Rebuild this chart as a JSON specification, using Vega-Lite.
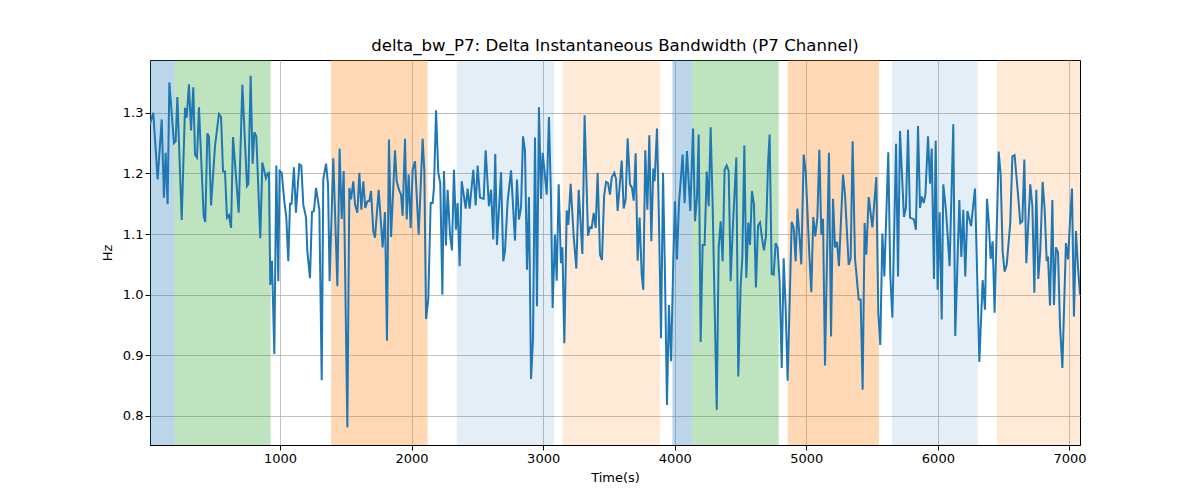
{
  "$schema": "https://vega.github.io/schema/vega-lite/v6.json",
  "width": 930,
  "height": 385,
  "autosize": {"type": "none"},
  "padding": {"left": 150, "top": 60, "right": 120, "bottom": 55},
  "background": "white",
  "title": {"text": "delta_bw_P7: Delta Instantaneous Bandwidth (P7 Channel)", "font": "DejaVu Sans", "fontSize": 16.6, "fontWeight": "normal", "color": "black", "offset": 5},
  "config": {
    "font": "DejaVu Sans",
    "view": {"stroke": "black", "strokeWidth": 1},
    "axis": {
      "labelFont": "DejaVu Sans", "titleFont": "DejaVu Sans",
      "labelFontSize": 13, "titleFontSize": 13, "titleFontWeight": "normal",
      "labelColor": "black", "titleColor": "black",
      "domainColor": "black", "tickColor": "black", "tickSize": 5,
      "grid": true, "gridColor": "#b0b0b0", "gridWidth": 0.8
    }
  },
  "datasets": {
    "bands": [
      {"start": 12, "end": 197, "kind": "blue"},
      {"start": 197, "end": 929, "kind": "green"},
      {"start": 1388, "end": 2122, "kind": "orange"},
      {"start": 2343, "end": 3082, "kind": "lightblue"},
      {"start": 3148, "end": 3888, "kind": "lightorange"},
      {"start": 3982, "end": 4134, "kind": "blue"},
      {"start": 4134, "end": 4790, "kind": "green"},
      {"start": 4858, "end": 5552, "kind": "orange"},
      {"start": 5651, "end": 6302, "kind": "lightblue"},
      {"start": 6448, "end": 7080, "kind": "lightorange"}
    ],
    "series": [
      {"t":12,"hz":1.281},{"t":37,"hz":1.300},{"t":70,"hz":1.190},{"t":101,"hz":1.289},{"t":118,"hz":1.160},{"t":131,"hz":1.234},{"t":146,"hz":1.149},{"t":159,"hz":1.350},{"t":194,"hz":1.250},{"t":207,"hz":1.253},
      {"t":220,"hz":1.326},{"t":253,"hz":1.123},{"t":278,"hz":1.308},{"t":291,"hz":1.292},{"t":308,"hz":1.347},{"t":324,"hz":1.271},{"t":341,"hz":1.342},{"t":354,"hz":1.231},{"t":369,"hz":1.226},{"t":384,"hz":1.309},
      {"t":420,"hz":1.129},{"t":432,"hz":1.120},{"t":448,"hz":1.266},{"t":460,"hz":1.261},{"t":476,"hz":1.147},{"t":506,"hz":1.245},{"t":536,"hz":1.298},{"t":552,"hz":1.293},{"t":567,"hz":1.203},{"t":582,"hz":1.203},
      {"t":597,"hz":1.127},{"t":612,"hz":1.131},{"t":628,"hz":1.110},{"t":643,"hz":1.260},{"t":686,"hz":1.135},{"t":714,"hz":1.346},{"t":749,"hz":1.179},{"t":759,"hz":1.182},{"t":777,"hz":1.361},{"t":792,"hz":1.216},
      {"t":805,"hz":1.268},{"t":820,"hz":1.261},{"t":850,"hz":1.093},{"t":866,"hz":1.218},{"t":893,"hz":1.192},{"t":906,"hz":1.200},{"t":916,"hz":1.201},{"t":926,"hz":1.016},{"t":939,"hz":1.056},{"t":957,"hz":0.902},
      {"t":972,"hz":1.213},{"t":987,"hz":1.022},{"t":997,"hz":1.204},{"t":1013,"hz":1.201},{"t":1033,"hz":1.154},{"t":1048,"hz":1.127},{"t":1063,"hz":1.055},{"t":1076,"hz":1.150},{"t":1088,"hz":1.150},{"t":1106,"hz":1.210},
      {"t":1121,"hz":1.135},{"t":1147,"hz":1.215},{"t":1162,"hz":1.213},{"t":1177,"hz":1.148},{"t":1198,"hz":1.127},{"t":1208,"hz":1.071},{"t":1228,"hz":1.027},{"t":1243,"hz":1.136},{"t":1258,"hz":1.138},{"t":1274,"hz":1.176},
      {"t":1299,"hz":1.140},{"t":1317,"hz":0.859},{"t":1329,"hz":1.190},{"t":1350,"hz":1.216},{"t":1365,"hz":1.182},{"t":1377,"hz":1.022},{"t":1405,"hz":1.225},{"t":1436,"hz":1.014},{"t":1453,"hz":1.241},{"t":1469,"hz":1.125},
      {"t":1484,"hz":1.204},{"t":1512,"hz":0.781},{"t":1527,"hz":1.176},{"t":1540,"hz":1.157},{"t":1557,"hz":1.187},{"t":1570,"hz":1.149},{"t":1588,"hz":1.135},{"t":1603,"hz":1.201},{"t":1618,"hz":1.140},{"t":1633,"hz":1.187},
      {"t":1648,"hz":1.143},{"t":1664,"hz":1.154},{"t":1679,"hz":1.154},{"t":1692,"hz":1.171},{"t":1709,"hz":1.105},{"t":1722,"hz":1.094},{"t":1750,"hz":1.173},{"t":1780,"hz":1.078},{"t":1798,"hz":1.136},{"t":1813,"hz":0.924},
      {"t":1828,"hz":1.256},{"t":1844,"hz":1.095},{"t":1874,"hz":1.238},{"t":1887,"hz":1.187},{"t":1907,"hz":1.171},{"t":1920,"hz":1.165},{"t":1932,"hz":1.130},{"t":1950,"hz":1.257},{"t":1963,"hz":1.124},{"t":1978,"hz":1.198},
      {"t":1993,"hz":1.110},{"t":2008,"hz":1.206},{"t":2026,"hz":1.220},{"t":2054,"hz":1.099},{"t":2084,"hz":1.257},{"t":2097,"hz":1.204},{"t":2110,"hz":0.960},{"t":2127,"hz":0.993},{"t":2145,"hz":1.151},{"t":2160,"hz":1.151},
      {"t":2170,"hz":1.176},{"t":2186,"hz":1.304},{"t":2203,"hz":1.201},{"t":2218,"hz":1.184},{"t":2234,"hz":1.000},{"t":2246,"hz":1.204},{"t":2261,"hz":1.081},{"t":2274,"hz":1.173},{"t":2292,"hz":1.099},{"t":2307,"hz":1.073},
      {"t":2322,"hz":1.206},{"t":2337,"hz":1.107},{"t":2350,"hz":1.151},{"t":2365,"hz":1.047},{"t":2381,"hz":1.187},{"t":2396,"hz":1.165},{"t":2411,"hz":1.142},{"t":2426,"hz":1.175},{"t":2441,"hz":1.142},{"t":2469,"hz":1.206},
      {"t":2487,"hz":1.147},{"t":2502,"hz":1.213},{"t":2520,"hz":1.160},{"t":2548,"hz":1.158},{"t":2563,"hz":1.238},{"t":2588,"hz":1.146},{"t":2604,"hz":1.173},{"t":2621,"hz":1.091},{"t":2636,"hz":1.232},{"t":2649,"hz":1.082},
      {"t":2680,"hz":1.202},{"t":2697,"hz":1.055},{"t":2710,"hz":1.072},{"t":2730,"hz":1.154},{"t":2756,"hz":1.205},{"t":2786,"hz":1.089},{"t":2801,"hz":1.190},{"t":2816,"hz":1.124},{"t":2832,"hz":1.144},{"t":2847,"hz":1.261},
      {"t":2862,"hz":1.237},{"t":2877,"hz":1.041},{"t":2892,"hz":1.161},{"t":2908,"hz":0.861},{"t":2923,"hz":0.928},{"t":2938,"hz":1.259},{"t":2953,"hz":0.981},{"t":2968,"hz":1.309},{"t":2984,"hz":1.158},{"t":2996,"hz":1.234},
      {"t":3009,"hz":1.206},{"t":3027,"hz":1.165},{"t":3044,"hz":1.293},{"t":3059,"hz":1.165},{"t":3072,"hz":0.978},{"t":3090,"hz":1.099},{"t":3103,"hz":1.023},{"t":3118,"hz":1.182},{"t":3135,"hz":1.052},{"t":3146,"hz":1.078},
      {"t":3161,"hz":0.920},{"t":3179,"hz":1.139},{"t":3191,"hz":1.115},{"t":3209,"hz":1.183},{"t":3232,"hz":1.096},{"t":3252,"hz":1.043},{"t":3270,"hz":1.173},{"t":3298,"hz":1.067},{"t":3315,"hz":1.296},{"t":3341,"hz":1.097},
      {"t":3356,"hz":1.111},{"t":3369,"hz":1.110},{"t":3384,"hz":1.135},{"t":3399,"hz":1.110},{"t":3414,"hz":1.201},{"t":3432,"hz":1.066},{"t":3447,"hz":1.057},{"t":3463,"hz":1.162},{"t":3478,"hz":1.186},{"t":3493,"hz":1.184},
      {"t":3508,"hz":1.165},{"t":3521,"hz":1.193},{"t":3541,"hz":1.201},{"t":3554,"hz":1.191},{"t":3566,"hz":1.138},{"t":3597,"hz":1.221},{"t":3612,"hz":1.142},{"t":3627,"hz":1.157},{"t":3642,"hz":1.258},{"t":3660,"hz":1.182},
      {"t":3675,"hz":1.176},{"t":3688,"hz":1.155},{"t":3703,"hz":1.233},{"t":3718,"hz":1.056},{"t":3733,"hz":1.127},{"t":3749,"hz":1.033},{"t":3761,"hz":1.008},{"t":3776,"hz":1.238},{"t":3792,"hz":1.140},{"t":3807,"hz":1.263},
      {"t":3822,"hz":1.088},{"t":3837,"hz":1.208},{"t":3847,"hz":1.187},{"t":3865,"hz":1.274},{"t":3880,"hz":1.124},{"t":3896,"hz":0.928},{"t":3911,"hz":1.201},{"t":3926,"hz":1.030},{"t":3941,"hz":0.818},{"t":3956,"hz":0.983},
      {"t":3972,"hz":0.890},{"t":3989,"hz":1.055},{"t":4002,"hz":1.154},{"t":4017,"hz":1.058},{"t":4032,"hz":1.149},{"t":4060,"hz":1.231},{"t":4075,"hz":1.151},{"t":4093,"hz":1.237},{"t":4118,"hz":1.138},{"t":4139,"hz":1.274},
      {"t":4154,"hz":1.121},{"t":4169,"hz":1.160},{"t":4182,"hz":1.264},{"t":4197,"hz":0.922},{"t":4212,"hz":1.082},{"t":4227,"hz":1.082},{"t":4243,"hz":1.203},{"t":4258,"hz":1.146},{"t":4273,"hz":1.276},{"t":4288,"hz":1.149},
      {"t":4319,"hz":0.810},{"t":4334,"hz":1.077},{"t":4349,"hz":1.121},{"t":4364,"hz":1.055},{"t":4379,"hz":1.206},{"t":4395,"hz":1.213},{"t":4410,"hz":1.204},{"t":4425,"hz":1.022},{"t":4440,"hz":1.104},{"t":4468,"hz":1.226},
      {"t":4483,"hz":0.865},{"t":4501,"hz":1.016},{"t":4514,"hz":1.063},{"t":4529,"hz":1.246},{"t":4544,"hz":1.028},{"t":4559,"hz":1.119},{"t":4572,"hz":1.082},{"t":4587,"hz":1.171},{"t":4602,"hz":1.149},{"t":4617,"hz":1.012},
      {"t":4633,"hz":1.114},{"t":4648,"hz":1.119},{"t":4663,"hz":1.094},{"t":4678,"hz":1.073},{"t":4693,"hz":1.096},{"t":4709,"hz":1.215},{"t":4721,"hz":1.264},{"t":4737,"hz":1.034},{"t":4752,"hz":1.033},{"t":4767,"hz":1.085},
      {"t":4782,"hz":1.077},{"t":4797,"hz":1.022},{"t":4813,"hz":0.879},{"t":4828,"hz":1.060},{"t":4843,"hz":0.978},{"t":4858,"hz":0.858},{"t":4889,"hz":1.120},{"t":4904,"hz":1.110},{"t":4919,"hz":1.055},{"t":4932,"hz":1.142},
      {"t":4947,"hz":1.099},{"t":4962,"hz":1.050},{"t":4980,"hz":1.231},{"t":4995,"hz":1.204},{"t":5023,"hz":1.066},{"t":5038,"hz":1.004},{"t":5053,"hz":1.128},{"t":5068,"hz":1.096},{"t":5084,"hz":1.127},{"t":5099,"hz":1.239},
      {"t":5114,"hz":1.099},{"t":5127,"hz":1.125},{"t":5142,"hz":0.883},{"t":5172,"hz":1.234},{"t":5188,"hz":0.931},{"t":5203,"hz":1.158},{"t":5218,"hz":1.078},{"t":5233,"hz":1.087},{"t":5248,"hz":1.047},{"t":5279,"hz":1.198},
      {"t":5294,"hz":1.165},{"t":5322,"hz":1.049},{"t":5337,"hz":1.060},{"t":5352,"hz":1.253},{"t":5370,"hz":1.060},{"t":5398,"hz":0.992},{"t":5413,"hz":0.992},{"t":5428,"hz":0.843},{"t":5443,"hz":1.118},{"t":5456,"hz":1.066},
      {"t":5474,"hz":1.161},{"t":5502,"hz":1.111},{"t":5532,"hz":1.194},{"t":5547,"hz":0.971},{"t":5562,"hz":0.917},{"t":5578,"hz":1.101},{"t":5593,"hz":1.030},{"t":5623,"hz":1.235},{"t":5638,"hz":1.033},{"t":5654,"hz":0.962},
      {"t":5682,"hz":1.249},{"t":5697,"hz":1.030},{"t":5712,"hz":1.270},{"t":5742,"hz":1.128},{"t":5757,"hz":1.143},{"t":5773,"hz":1.272},{"t":5788,"hz":1.127},{"t":5818,"hz":1.124},{"t":5833,"hz":1.107},{"t":5849,"hz":1.278},
      {"t":5864,"hz":1.143},{"t":5877,"hz":1.162},{"t":5892,"hz":1.151},{"t":5905,"hz":1.165},{"t":5925,"hz":1.261},{"t":5940,"hz":1.183},{"t":5953,"hz":1.241},{"t":5970,"hz":1.026},{"t":5983,"hz":1.254},{"t":5998,"hz":1.008},
      {"t":6013,"hz":1.136},{"t":6029,"hz":0.959},{"t":6041,"hz":1.182},{"t":6062,"hz":1.138},{"t":6089,"hz":1.047},{"t":6117,"hz":1.281},{"t":6132,"hz":0.932},{"t":6163,"hz":1.156},{"t":6178,"hz":1.062},{"t":6193,"hz":1.140},
      {"t":6208,"hz":1.030},{"t":6224,"hz":1.138},{"t":6252,"hz":1.113},{"t":6282,"hz":1.175},{"t":6315,"hz":0.889},{"t":6340,"hz":1.024},{"t":6358,"hz":0.975},{"t":6373,"hz":1.158},{"t":6386,"hz":1.122},{"t":6401,"hz":1.059},
      {"t":6416,"hz":1.088},{"t":6431,"hz":0.970},{"t":6462,"hz":1.236},{"t":6477,"hz":1.198},{"t":6492,"hz":1.071},{"t":6507,"hz":1.038},{"t":6523,"hz":1.049},{"t":6550,"hz":1.118},{"t":6566,"hz":1.228},{"t":6583,"hz":1.230},
      {"t":6611,"hz":1.160},{"t":6626,"hz":1.118},{"t":6642,"hz":1.121},{"t":6657,"hz":1.223},{"t":6672,"hz":1.052},{"t":6702,"hz":1.182},{"t":6718,"hz":1.146},{"t":6733,"hz":1.003},{"t":6748,"hz":1.173},{"t":6763,"hz":1.026},
      {"t":6778,"hz":1.071},{"t":6796,"hz":1.186},{"t":6811,"hz":1.143},{"t":6827,"hz":1.055},{"t":6837,"hz":1.063},{"t":6852,"hz":0.982},{"t":6870,"hz":1.156},{"t":6882,"hz":0.983},{"t":6897,"hz":1.078},{"t":6913,"hz":1.069},
      {"t":6928,"hz":0.949},{"t":6946,"hz":0.879},{"t":6973,"hz":1.085},{"t":6989,"hz":1.058},{"t":7004,"hz":1.121},{"t":7019,"hz":1.175},{"t":7034,"hz":0.964},{"t":7049,"hz":1.105},{"t":7065,"hz":1.044},{"t":7080,"hz":1.000}
    ]
  },
  "layer": [
    {
      "data": {"name": "bands"},
      "mark": {"type": "rect", "strokeWidth": 1},
      "encoding": {
        "x": {"field": "start", "type": "quantitative", "title": "Time(s)",
              "scale": {"domain": [12, 7080], "nice": false, "zero": false},
              "axis": {"values": [1000, 2000, 3000, 4000, 5000, 6000, 7000], "format": "d", "labelPadding": 2, "titlePadding": 6}},
        "x2": {"field": "end"},
        "fill": {"field": "kind", "type": "nominal", "legend": null,
                 "scale": {"domain": ["blue", "green", "orange", "lightblue", "lightorange"],
                           "range": ["rgba(31,119,180,0.3)", "rgba(44,160,44,0.3)", "rgba(255,127,14,0.3)", "rgba(31,119,180,0.12)", "rgba(255,127,14,0.16)"]}}
      }
    },
    {
      "data": {"name": "series"},
      "mark": {"type": "line", "color": "#1f77b4", "strokeWidth": 2, "clip": true},
      "encoding": {
        "x": {"field": "t", "type": "quantitative", "title": "Time(s)",
              "scale": {"domain": [12, 7080], "nice": false, "zero": false},
              "axis": {"values": [1000, 2000, 3000, 4000, 5000, 6000, 7000], "format": "d", "labelPadding": 2, "titlePadding": 6}},
        "y": {"field": "hz", "type": "quantitative", "title": "Hz",
              "scale": {"domain": [0.752, 1.387], "nice": false, "zero": false},
              "axis": {"values": [0.8, 0.9, 1.0, 1.1, 1.2, 1.3], "format": ".1f", "labelPadding": 2, "titlePadding": 8}}
      }
    }
  ]
}
